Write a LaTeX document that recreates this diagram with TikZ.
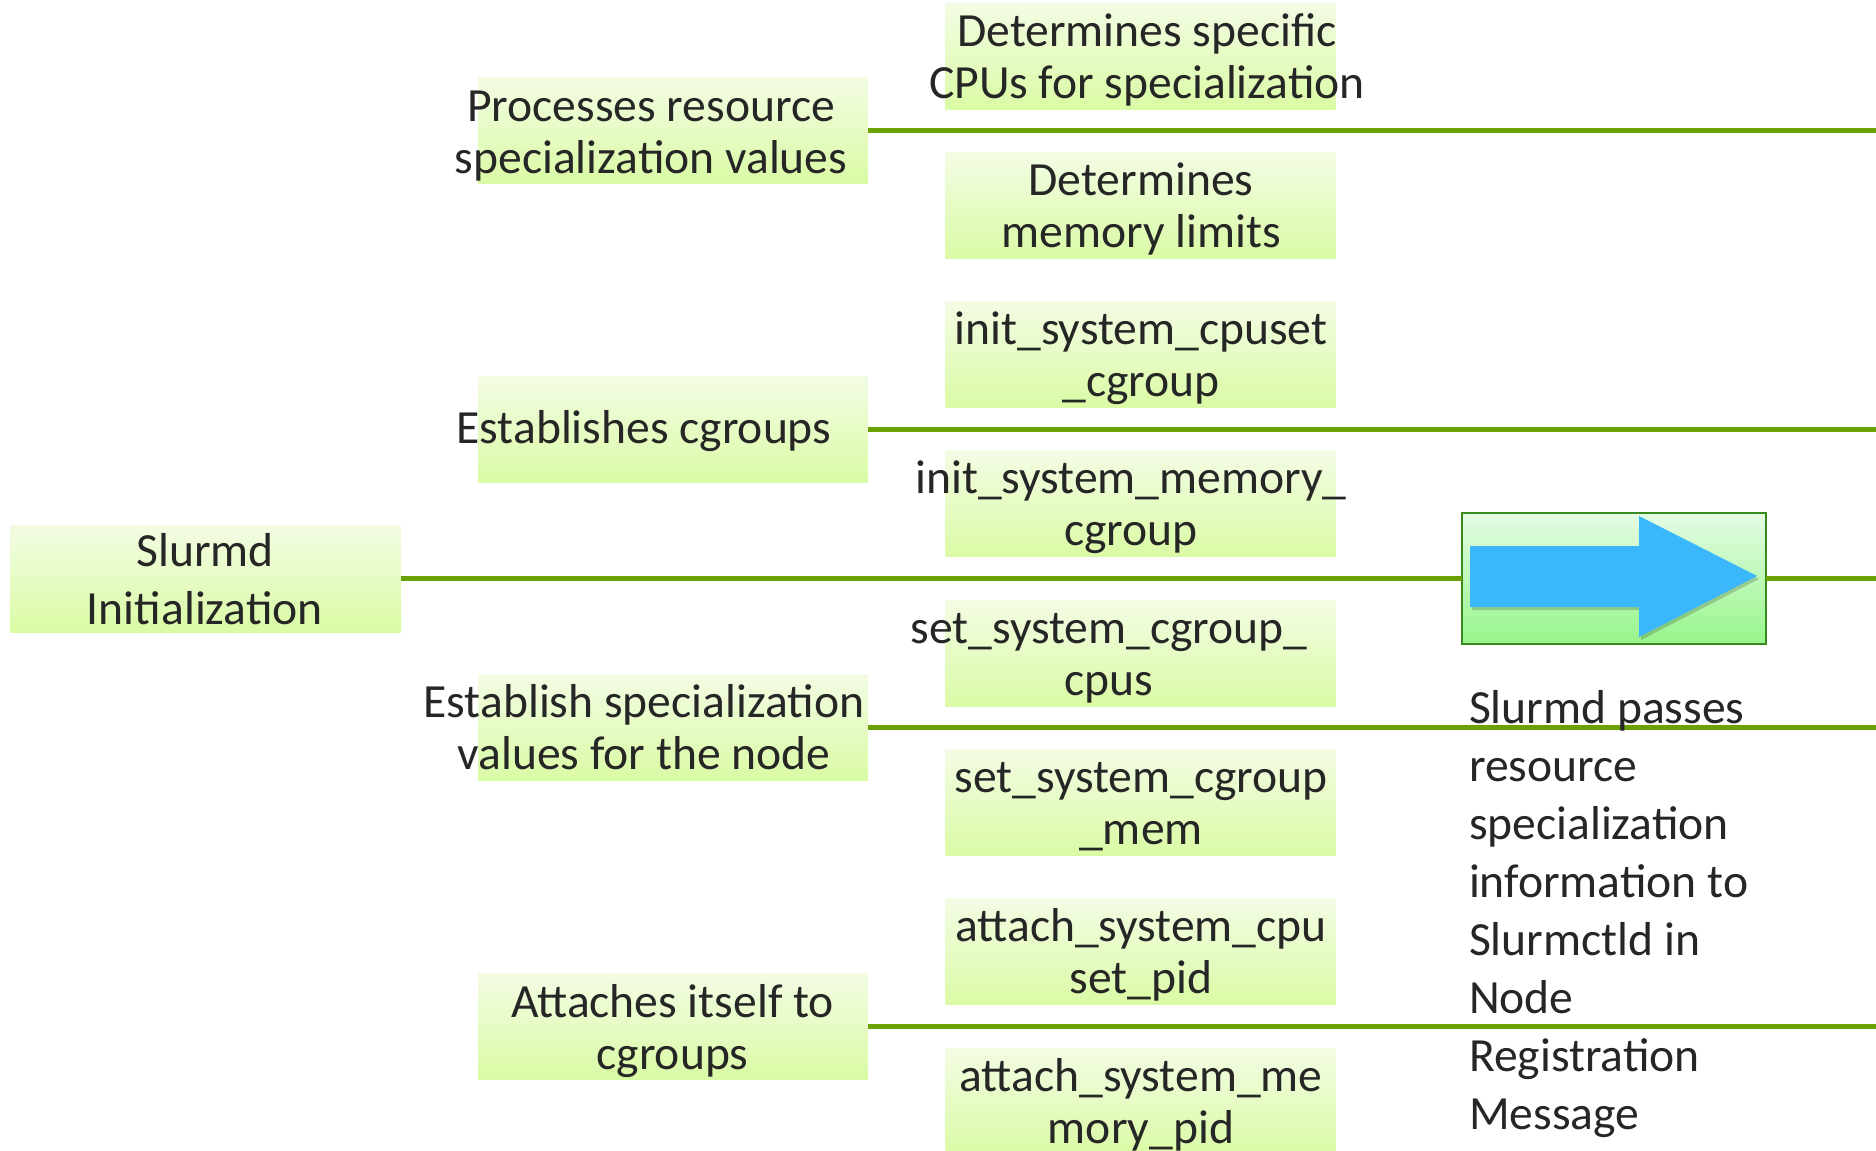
\documentclass[tikz,border=0pt]{standalone}
\usepackage{fontspec}
\setmainfont{Carlito}
\definecolor{boxtop}{RGB}{243,252,228}
\definecolor{boxbot}{RGB}{218,251,165}
\definecolor{linec}{RGB}{106,160,0}
\definecolor{txtc}{RGB}{38,38,38}
\definecolor{aboxdraw}{RGB}{56,140,30}
\definecolor{aboxtop}{RGB}{228,252,228}
\definecolor{aboxbot}{RGB}{152,245,140}
\definecolor{arrowc}{RGB}{59,183,252}
\newcommand{\fls}{\rule{0pt}{20pt}}
\begin{document}
\begin{tikzpicture}[x=0.5pt,y=-0.5pt,
  gbox/.style={rectangle, inner sep=0pt, outer sep=0pt, top color=boxtop, bottom color=boxbot, draw=none, minimum width=195pt, minimum height=53pt},
  txt/.style={inner sep=0pt, outer sep=0pt, anchor=north, align=center, text=txtc, font=\fontsize{23.8}{26}\selectfont},
  conn/.style={draw=linec, line width=2.5pt},
]
\clip (0,0) rectangle (1876,1151);
\fill[white] (0,0) rectangle (1876,1151);

% root box
\node[gbox, minimum width=195.5pt, minimum height=53.5pt] (slurmd) at (205.5,578.5) {};
% level-1 boxes
\node[gbox] (proc) at (673,130) {};
\node[gbox] (estab) at (673,429.5) {};
\node[gbox] (spec) at (673,727) {};
\node[gbox] (attach) at (673,1026) {};
% level-2 boxes
\node[gbox] (r1) at (1140.5,56) {};
\node[gbox] (r2) at (1140.5,205.3) {};
\node[gbox] (r3) at (1140.5,354.6) {};
\node[gbox] (r4) at (1140.5,503.9) {};
\node[gbox] (r5) at (1140.5,653.2) {};
\node[gbox] (r6) at (1140.5,802.5) {};
\node[gbox] (r7) at (1140.5,951.8) {};
\node[gbox] (r8) at (1140.5,1101.1) {};

% arrow box
\node[rectangle, inner sep=0pt, outer sep=0pt, draw=aboxdraw, line width=1pt, top color=aboxtop, bottom color=aboxbot, minimum width=152pt, minimum height=65.5pt] (abox) at (1614,578.5) {};

% connectors
\coordinate (e0) at (1876,578.5);
\coordinate (e1) at (1876,130);
\coordinate (e2) at (1876,429.5);
\coordinate (e3) at (1876,727);
\coordinate (e4) at (1876,1026);
\draw[conn] (slurmd.east) -- (abox.west);
\draw[conn] (abox.east) -- (e0);
\draw[conn] (proc.east) -- (e1);
\draw[conn] (estab.east) -- (e2);
\draw[conn] (spec.east) -- (e3);
\draw[conn] (attach.east) -- (e4);

% arrow inside box
\fill[black, opacity=0.18] (1472,549) -- (1641,549) -- (1641,519) -- (1759,579) -- (1641,640) -- (1641,610) -- (1472,610) -- cycle;
\fill[arrowc] (1470,546) -- (1639,546) -- (1639,516) -- (1757,576) -- (1639,637) -- (1639,607) -- (1470,607) -- cycle;

% texts
\node[txt, font=\fontsize{23.8}{29}\selectfont] (tslurmd) at (205,526) {\fls Slurmd\\Initialization};
\node[txt] (tproc) at (651,81) {\fls Processes resource\\specialization values};
\node[txt] (testab) at (644,403) {\fls Establishes cgroups};
\node[txt] (tspec) at (644,677) {\fls Establish specialization\\values for the node};
\node[txt] (tattach) at (672.5,977) {\fls Attaches itself to\\cgroups};

\node[txt] (tr1) at (1147,6) {\fls Determines specific\\CPUs for specialization};
\node[txt] (tr2) at (1141,155.3) {\fls Determines\\memory limits};
\node[txt] (tr3) at (1141,304.6) {\fls init\_system\_cpuset\\\_cgroup};
\node[txt] (tr4) at (1131,453.9) {\fls init\_system\_memory\_\\cgroup};
\node[txt] (tr5) at (1109,603.2) {\fls set\_system\_cgroup\_\\cpus};
\node[txt] (tr6) at (1141,752.5) {\fls set\_system\_cgroup\\\_mem};
\node[txt] (tr7) at (1141,901.8) {\fls attach\_system\_cpu\\set\_pid};
\node[txt] (tr8) at (1141,1051.1) {\fls attach\_system\_me\\mory\_pid};

\node[txt, anchor=north west, align=left, font=\fontsize{23.8}{29}\selectfont] (tnote) at (1469,683) {\fls Slurmd passes\\resource\\specialization\\information to\\Slurmctld in\\Node\\Registration\\Message};
\end{tikzpicture}
\end{document}
